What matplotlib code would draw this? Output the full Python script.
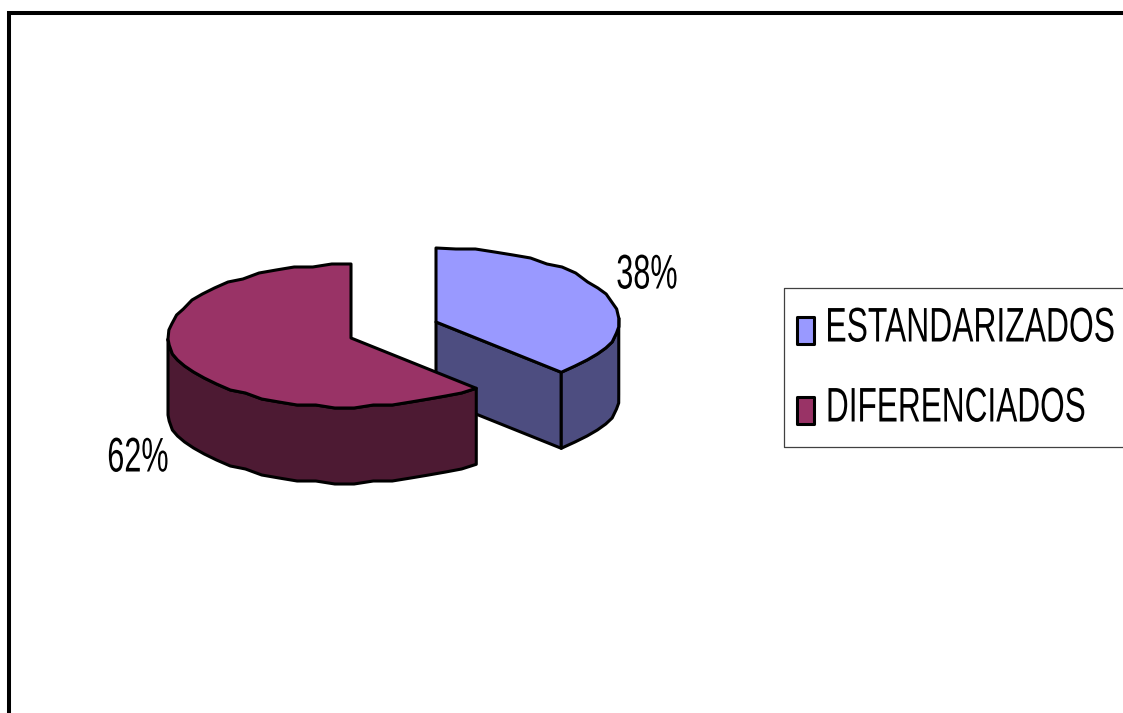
import matplotlib
matplotlib.use('Agg')
import matplotlib.pyplot as plt
from matplotlib.patches import Polygon, Rectangle
from matplotlib.patheffects import AbstractPathEffect
from matplotlib.transforms import Affine2D
import numpy as np

categories = ['ESTANDARIZADOS', 'DIFERENCIADOS']
shares = [38, 62]
pct_labels = ['38%', '62%']

top_colors = ['#9999FF', '#993366']
side_colors = ['#4D4D80', '#4D1A33']

plt.rcParams['font.family'] = ['Liberation Sans']

# pie layout, in pixels of the 1123x713 picture
centers = [(436, 322), (351, 338)]
rx = 183
ry_back = 74
ry_front = 69
depth = 76
lw = 2.2

# The original font is very narrow, no such family here, so squeeze the glyphs sideways
class Squeeze(AbstractPathEffect):
    def __init__(self, anchor_x, factor):
        super().__init__()
        self.anchor_x = anchor_x
        self.factor = factor

    def draw_path(self, renderer, gc, tpath, affine, rgbFace=None):
        squeeze = Affine2D().translate(-self.anchor_x, 0).scale(self.factor, 1).translate(self.anchor_x, 0)
        renderer.draw_path(gc, tpath, affine + squeeze, rgbFace)

# Point on the ellipse, angle in degrees clockwise from 12 o'clock
def rim(center, ang):
    ang = np.radians(ang)
    x = center[0] + rx * np.sin(ang)
    c = np.cos(ang)
    y = center[1] - np.where(c > 0, ry_back, ry_front) * c
    return x, y

# Coarse stepped arc, the original has this jagged outline
def arc_points(center, a0, a1):
    n = max(int(abs(a1 - a0) / 6), 2)
    angs = np.linspace(a0, a1, n + 1)
    x, y = rim(center, angs)
    y[1:-1] = np.round(y[1:-1] / 3) * 3
    return np.column_stack([x, y])

def add_poly(ax, pts, color):
    ax.add_patch(Polygon(pts, closed=True, facecolor=color, edgecolor='black',
                         linewidth=lw, joinstyle='round'))

def narrow_text(ax, x, y, s, ha, factor):
    ax.text(x, y, s, fontsize=35, ha=ha, va='center', color='black',
            path_effects=[Squeeze(x, factor)])

fig = plt.figure(figsize=(11.23, 7.13), dpi=100)
ax = fig.add_axes([0, 0, 1, 1])
ax.set_xlim(0, 1123)
ax.set_ylim(713, 0)
ax.axis('off')

# outer frame, runs off the right and bottom of the picture
ax.plot([8.7, 8.7, 1130], [720, 13, 13], color='black', linewidth=2.9, solid_joinstyle='miter')

# slice angles come from the shares
split = shares[0] / sum(shares) * 360

# ESTANDARIZADOS, drawn first because it sits behind
c = centers[0]
edge = rim(c, split)
add_poly(ax, [c, (float(edge[0]), float(edge[1])), (float(edge[0]), float(edge[1]) + depth), (c[0], c[1] + depth)], side_colors[0])
top_arc = arc_points(c, 0, split)
arc = top_arc[np.argmax(top_arc[:, 0]):]
add_poly(ax, np.vstack([arc, (arc + [0, depth])[::-1]]), side_colors[0])
add_poly(ax, np.vstack([[c], top_arc]), top_colors[0])

# DIFERENCIADOS
c = centers[1]
top_arc = arc_points(c, split, 360)
arc = top_arc[:np.argmin(top_arc[:, 0]) + 1]
add_poly(ax, np.vstack([arc, (arc + [0, depth])[::-1]]), side_colors[1])
add_poly(ax, np.vstack([[c], top_arc]), top_colors[1])

# percent labels
narrow_text(ax, 647, 276, pct_labels[0], 'center', 0.63)
narrow_text(ax, 138, 459, pct_labels[1], 'center', 0.63)

# legend box, cut by the right edge
ax.plot([1130, 783.5, 783.5, 1130], [287.5, 287.5, 447, 447], color='#404040', linewidth=0.9)
legend_y = [331, 411]
legend_right = [1115, 1086]
legend_squeeze = [0.655, 0.65]
for name, color, y, right, factor in zip(categories, top_colors, legend_y, legend_right, legend_squeeze):
    ax.add_patch(Rectangle((797, y - 14), 17, 27, facecolor=color, edgecolor='black',
                           linewidth=lw, joinstyle='round'))
    narrow_text(ax, right, y - 2, name, 'right', factor)

fig.savefig('out.png', dpi=100, facecolor='white')
